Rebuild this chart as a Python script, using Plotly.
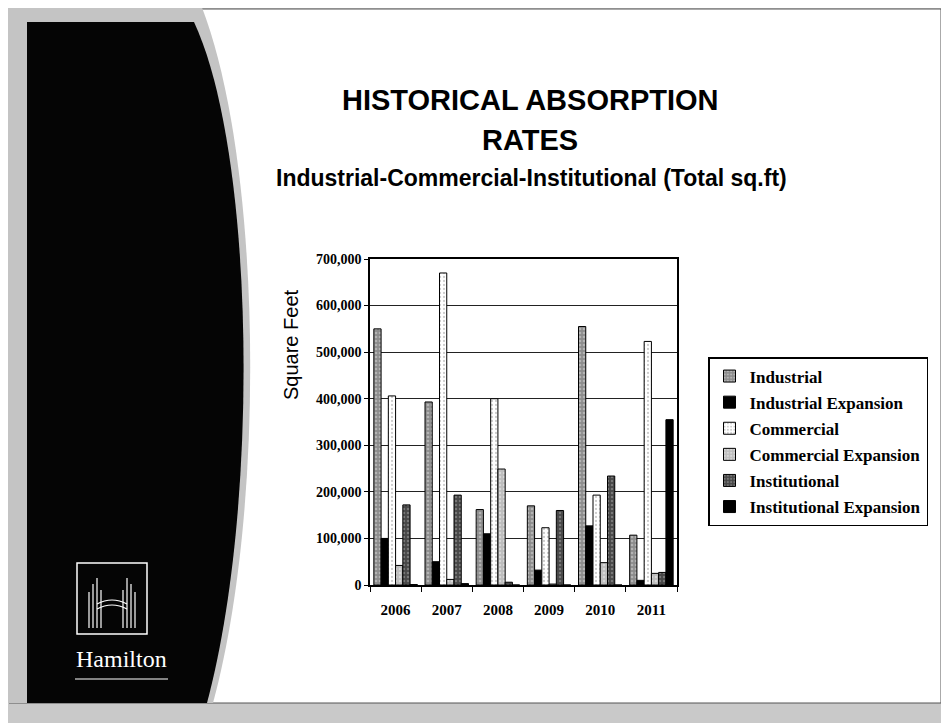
import plotly.graph_objects as go

# data
years = ["2006", "2007", "2008", "2009", "2010", "2011"]
industrial = [550000, 393000, 162000, 170000, 555000, 107000]
industrial_exp = [100000, 50000, 110000, 32000, 127000, 10000]
commercial = [406000, 670000, 400000, 123000, 193000, 523000]
commercial_exp = [42000, 12000, 249000, 2000, 48000, 25000]
institutional = [172000, 193000, 6000, 160000, 234000, 27000]
institutional_exp = [1000, 3000, 0, 0, 0, 355000]
y_ticks = [0, 100000, 200000, 300000, 400000, 500000, 600000, 700000]

# the page has an 8px body margin, so the figure is drawn 8px in from the corner
OFF = 8
W, H = 949 - OFF, 723 - OFF
# plot box in page pixels
L, R, T, B = 370, 677, 259, 585


def px(x):
    return (x - L) / (R - L)


def py(y):
    return (B - y) / (B - T)


serif = "Liberation Serif"
sans = "Liberation Sans"

series = [
    ("Industrial", industrial, dict(bgcolor="#8c8c8c", fgcolor="#dcdcdc", shape=".", size=4, solidity=0.35)),
    ("Industrial Expansion", industrial_exp, None),
    ("Commercial", commercial, dict(bgcolor="#ffffff", fgcolor="#9a9a9a", shape=".", size=4, solidity=0.25)),
    ("Commercial Expansion", commercial_exp, dict(bgcolor="#bdbdbd", fgcolor="#f2f2f2", shape=".", size=4, solidity=0.3)),
    ("Institutional", institutional, dict(bgcolor="#474747", fgcolor="#a8a8a8", shape=".", size=4, solidity=0.3)),
    ("Institutional Expansion", institutional_exp, None),
]

fig = go.Figure()
for name, vals, pat in series:
    marker = dict(color="#000000", line=dict(color="#000000", width=1))
    if pat:
        marker["color"] = pat["bgcolor"]
        marker["pattern"] = pat
    fig.add_trace(go.Bar(x=years, y=vals, name=name, marker=marker, legendgroup=name))

shapes = []
# white slide on grey scan frame
shapes.append(dict(type="rect", xref="paper", yref="paper", layer="below",
                   x0=px(9), x1=px(941), y0=py(703), y1=py(9),
                   fillcolor="white", line=dict(color="#555555", width=1)))


def path(cmds):
    out = []
    for tok in cmds:
        if isinstance(tok, str):
            out.append(tok)
        else:
            out.append("%.5f,%.5f" % (px(tok[0]), py(tok[1])))
    return " ".join(out)


# grey halo and black side panel with curved edge
halo = path(["M", (0, 0), "L", (199, 0), "C", (261, 150), (268, 500), (213, 703), "L", (0, 703), "Z"])
panel = path(["M", (27, 22), "L", (194, 22), "C", (254, 150), (261, 500), (207, 703), "L", (27, 703), "Z"])
shapes.append(dict(type="path", xref="paper", yref="paper", layer="below", path=halo,
                   fillcolor="#c4c4c4", line=dict(width=0)))
shapes.append(dict(type="path", xref="paper", yref="paper", layer="below", path=panel,
                   fillcolor="#050505", line=dict(width=0)))

# Hamilton logo (box with columns and arches)
wl = dict(color="white", width=1.5)
shapes.append(dict(type="rect", xref="paper", yref="paper", x0=px(77), x1=px(147), y0=py(634), y1=py(563),
                   line=wl))
for x, top in [(89, 592), (93, 584), (97, 578), (101, 590), (123, 590), (127, 578), (131, 584), (135, 592)]:
    shapes.append(dict(type="line", xref="paper", yref="paper", x0=px(x), x1=px(x), y0=py(628), y1=py(top),
                       line=dict(color="white", width=1.2)))
for yy in (604, 609):
    shapes.append(dict(type="path", xref="paper", yref="paper",
                       path=path(["M", (97, yy), "Q", (112, yy - 8), (127, yy)]),
                       line=dict(color="white", width=1.2)))
shapes.append(dict(type="line", xref="paper", yref="paper", x0=px(75), x1=px(168), y0=py(679), y1=py(679),
                   line=dict(color="white", width=1.2)))


def label(text, x, y, size, family=sans, color="black", angle=0):
    return dict(text=text, x=px(x), y=py(y), xref="paper", yref="paper", xanchor="center",
                yanchor="middle", showarrow=False, textangle=angle,
                font=dict(family=family, size=size, color=color))


annotations = [
    label("<b>HISTORICAL ABSORPTION</b>", 530, 100, 29),
    label("<b>RATES</b>", 530, 140, 29),
    label("<b>Industrial-Commercial-Institutional (Total sq.ft)</b>", 531, 178, 23),
    label("Square Feet", 291, 345, 20, angle=-90),
    label("Hamilton", 121, 659, 24, family=serif, color="white"),
]

fig.update_layout(
    width=W, height=H,
    margin=dict(l=L - OFF, r=W - (R - OFF), t=T - OFF, b=H - (B - OFF), pad=0),
    paper_bgcolor="#c9c9c9",
    plot_bgcolor="white",
    barmode="group",
    bargap=0.15,
    bargroupgap=0,
    shapes=shapes,
    annotations=annotations,
    showlegend=True,
    legend=dict(x=px(708), y=py(357), xanchor="left", yanchor="top",
                bgcolor="white", bordercolor="black", borderwidth=1.5,
                font=dict(family=serif, size=17, color="black", weight="bold"),
                tracegroupgap=1, itemwidth=30),
    font=dict(family=serif, color="black"),
)
fig.update_xaxes(type="category", tickson="boundaries", ticks="outside", ticklen=5,
                 tickcolor="black", showline=True, linecolor="black", linewidth=1.5,
                 mirror=True, tickfont=dict(family=serif, size=15, color="black", weight="bold"),
                 ticklabelstandoff=10)
fig.update_yaxes(range=[0, 700000], tickvals=y_ticks, tickformat=",", ticks="outside", ticklen=4,
                 tickcolor="black", showline=True, linecolor="black", linewidth=1.5, mirror=True,
                 showgrid=True, gridcolor="#222222", gridwidth=1, zeroline=False,
                 tickfont=dict(family=serif, size=14, color="black", weight="bold"))

fig.write_html("out.html")
